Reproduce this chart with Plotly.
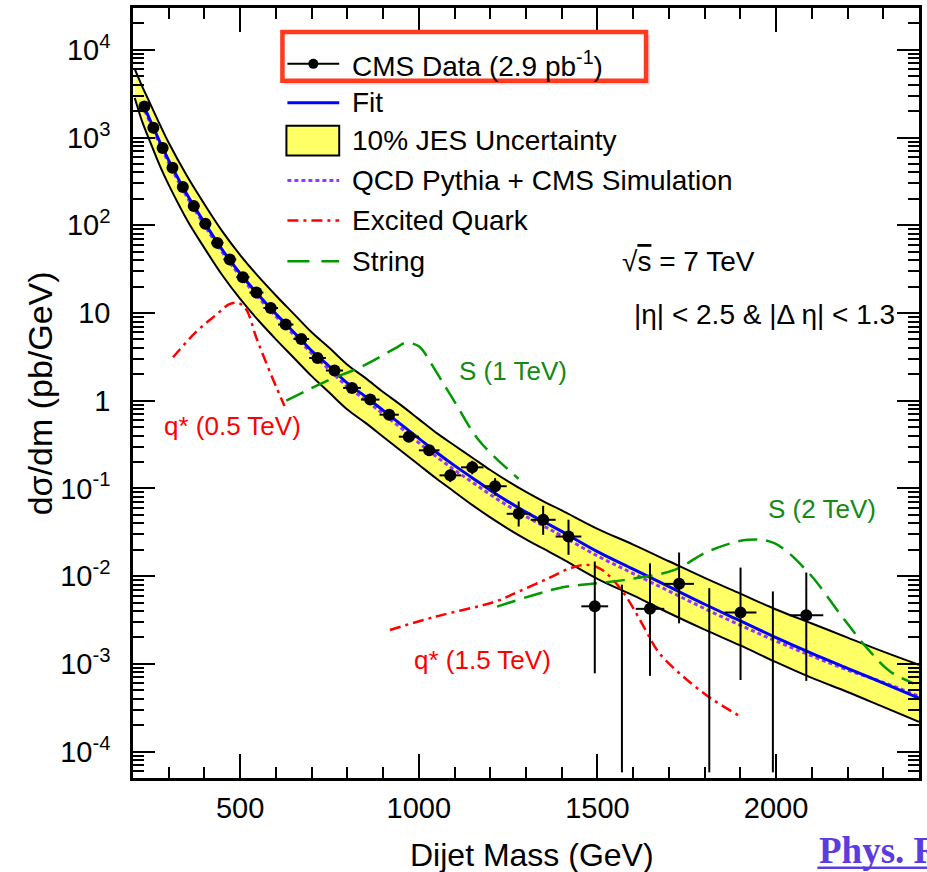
import plotly.graph_objects as go

# ---------------- data ----------------
bin_lo = [220, 244, 270, 296, 325, 354, 386, 419, 453, 489, 526, 565, 606, 649, 693, 740, 788, 838,
          890, 944, 1000, 1058, 1118, 1181, 1246, 1313, 1383, 1455, 1530, 1607, 1687, 1770, 1856, 1945, 2037]
bin_hi = [244, 270, 296, 325, 354, 386, 419, 453, 489, 526, 565, 606, 649, 693, 740, 788, 838, 890,
          944, 1000, 1058, 1118, 1181, 1246, 1313, 1383, 1455, 1530, 1607, 1687, 1770, 1856, 1945, 2037, 2132]
xsec = [2255, 1297, 760, 453, 273, 166, 104, 63.0, 40.8, 25.6, 17.1, 11.4, 7.39, 5.06, 3.07, 2.21, 1.40, 1.03,
        0.693, 0.389, 0.272, 0.141, 0.174, 0.106, 0.0514, 0.0439, 0.0283, 4.53e-3, None, 4.24e-3, 8.17e-3,
        None, 3.84e-3, None, 3.58e-3]
xsec_hi = [2290, 1320, 775, 462, 279, 170, 107, 65.0, 42.2, 26.6, 17.9, 12.0, 7.8, 5.40, 3.30, 2.40, 1.54, 1.14,
           0.775, 0.43, 0.31, 0.165, 0.207, 0.131, 0.0711, 0.0634, 0.044, 0.0147, 8.0e-3, 0.0140, 0.0186,
           7.3e-3, 0.01253, 6.7e-3, 0.011]
xsec_lo = [2220, 1274, 745, 444, 267, 162, 101, 61.0, 39.4, 24.6, 16.3, 10.8, 6.98, 4.72, 2.84, 2.02, 1.26, 0.92,
           0.615, 0.35, 0.234, 0.118, 0.145, 0.083, 0.0368, 0.0296, 0.0175, 7.8e-4, 5.8e-5, 7.3e-4, 2.9e-3,
           5.8e-5, 6.55e-4, 5.8e-5, 6.4e-4]

curve_mass = [205, 225, 250, 275, 300, 350, 400, 450, 500, 550, 600, 650, 700, 750, 800, 850, 900, 950, 1000,
              1050, 1100, 1150, 1200, 1250, 1300, 1350, 1400, 1500, 1600, 1700, 1800, 1900, 2000, 2100, 2200,
              2300, 2400]
fit_log10 = [3.62, 3.41, 3.18, 2.95, 2.74, 2.36, 2.03, 1.72, 1.45, 1.21, 0.99, 0.78, 0.57, 0.39, 0.20, 0.05,
             -0.11, -0.27, -0.43, -0.59, -0.74, -0.88, -1.02, -1.15, -1.27, -1.38, -1.49, -1.72, -1.92, -2.12,
             -2.32, -2.51, -2.70, -2.88, -3.05, -3.22, -3.39]
qcd_log10 = [3.59, 3.38, 3.15, 2.92, 2.71, 2.33, 2.00, 1.69, 1.42, 1.18, 0.96, 0.75, 0.54, 0.35, 0.16, 0.01,
             -0.15, -0.31, -0.48, -0.64, -0.79, -0.93, -1.07, -1.20, -1.32, -1.43, -1.54, -1.77, -1.97, -2.17,
             -2.37, -2.56, -2.74, -2.91, -3.07, -3.21, -3.37]
jes_up_log10 = [3.78, 3.59, 3.37, 3.15, 2.94, 2.57, 2.24, 1.93, 1.66, 1.42, 1.20, 0.99, 0.78, 0.60, 0.41, 0.26,
                0.10, -0.05, -0.21, -0.37, -0.51, -0.65, -0.79, -0.92, -1.04, -1.15, -1.25, -1.46, -1.64,
                -1.83, -2.02, -2.20, -2.38, -2.54, -2.70, -2.86, -3.01]
jes_dn_log10 = [3.45, 3.19, 2.93, 2.68, 2.46, 2.07, 1.74, 1.43, 1.16, 0.92, 0.70, 0.49, 0.28, 0.09, -0.10, -0.25,
                -0.41, -0.57, -0.73, -0.89, -1.04, -1.19, -1.33, -1.46, -1.58, -1.69, -1.80, -2.03, -2.22,
                -2.42, -2.61, -2.79, -2.98, -3.16, -3.32, -3.49, -3.66]

qstar05_mass = [312, 378, 430, 470, 494, 517, 545, 582, 624]
qstar05_log10 = [0.495, 0.79, 0.97, 1.10, 1.115, 1.04, 0.72, 0.34, -0.06]
qstar15_mass = [919, 1047, 1214, 1279, 1363, 1419, 1465, 1500, 1530, 1577, 1632, 1670, 1735, 1818, 1902]
qstar15_log10 = [-2.613, -2.461, -2.29, -2.176, -2.024, -1.916, -1.871, -1.90, -1.985, -2.213, -2.594, -2.861,
                 -3.127, -3.394, -3.603]
string1_mass = [629, 740, 842, 935, 963, 1000, 1035, 1065, 1103, 1168, 1279]
string1_log10 = [0.00, 0.221, 0.393, 0.60, 0.659, 0.62, 0.42, 0.22, -0.03, -0.45, -0.89]
string2_mass = [1219, 1391, 1456, 1577, 1716, 1809, 1921, 1995, 2088, 2181, 2255, 2320, 2385]
string2_log10 = [-2.347, -2.137, -2.099, -2.042, -1.928, -1.719, -1.586, -1.624, -1.947, -2.442, -2.823,
                 -3.089, -3.222]

x_ticks = [500, 1000, 1500, 2000]
y_ticks = [1e4, 1e3, 1e2, 10, 1, 0.1, 0.01, 1e-3, 1e-4]
y_ticktext = ["10<sup>4</sup>", "10<sup>3</sup>", "10<sup>2</sup>", "10", "1", "10<sup>-1</sup>",
              "10<sup>-2</sup>", "10<sup>-3</sup>", "10<sup>-4</sup>"]

legend_labels = ["CMS Data (2.9 pb<sup>-1</sup>)", "Fit", "10% JES Uncertainty",
                 "QCD Pythia + CMS Simulation", "Excited Quark", "String"]

# ---------------- geometry helpers ----------------
W, H = 927, 872
L, R, T, B = 133, 922, 6, 778
FONT = "Liberation Sans, Arial, Helvetica, sans-serif"


def pxx(x):
    return (x - L) / (R - L)


def pxy(y):
    return (B - y) / (B - T)


def tolin(v):
    return [10 ** a for a in v]


centers = [(a + b) / 2 for a, b in zip(bin_lo, bin_hi)]
halfw = [(b - a) / 2 for a, b in zip(bin_lo, bin_hi)]

fig = go.Figure()

# JES band
fig.add_trace(go.Scatter(x=curve_mass, y=tolin(jes_dn_log10), mode="lines",
                         line=dict(width=0, shape="spline", color="black"), showlegend=False, hoverinfo="skip"))
fig.add_trace(go.Scatter(x=curve_mass, y=tolin(jes_up_log10), mode="lines", fill="tonexty",
                         fillcolor="#ffff66", line=dict(width=0, shape="spline", color="black"),
                         showlegend=False, hoverinfo="skip"))
for arr in (jes_up_log10, jes_dn_log10):
    fig.add_trace(go.Scatter(x=curve_mass, y=tolin(arr), mode="lines",
                             line=dict(width=2, shape="spline", color="black"), showlegend=False))

# QCD and fit
fig.add_trace(go.Scatter(x=curve_mass[1:], y=tolin(qcd_log10[1:]), mode="lines",
                         line=dict(width=3, color="#9933ff", dash="4px,3px", shape="spline"), showlegend=False))
fig.add_trace(go.Scatter(x=curve_mass[1:], y=tolin(fit_log10[1:]), mode="lines",
                         line=dict(width=3, color="#0000ff", shape="spline"), showlegend=False))

# signals
fig.add_trace(go.Scatter(x=qstar05_mass, y=tolin(qstar05_log10), mode="lines",
                         line=dict(width=2.5, color="#ff0000", dash="11px,5px,3px,5px", shape="spline"),
                         showlegend=False))
fig.add_trace(go.Scatter(x=qstar15_mass, y=tolin(qstar15_log10), mode="lines",
                         line=dict(width=2.5, color="#ff0000", dash="11px,5px,3px,5px", shape="spline"),
                         showlegend=False))
fig.add_trace(go.Scatter(x=string1_mass, y=tolin(string1_log10), mode="lines",
                         line=dict(width=2.5, color="#009900", dash="19px,9px", shape="spline"),
                         showlegend=False))
fig.add_trace(go.Scatter(x=string2_mass, y=tolin(string2_log10), mode="lines",
                         line=dict(width=2.5, color="#009900", dash="19px,9px", shape="spline"),
                         showlegend=False))

# data vertical error bars (all bins, incl. empty ones)
vx, vy = [], []
for c, lo, hi in zip(centers, xsec_lo, xsec_hi):
    vx += [c, c, None]
    vy += [lo, hi, None]
fig.add_trace(go.Scatter(x=vx, y=vy, mode="lines", line=dict(width=2, color="black"), showlegend=False))

# data points with horizontal bars
px_, py_, pw_ = [], [], []
for c, v, w in zip(centers, xsec, halfw):
    if v is not None:
        px_.append(c)
        py_.append(v)
        pw_.append(w)
fig.add_trace(go.Scatter(x=px_, y=py_, mode="markers",
                         marker=dict(size=12, color="black"),
                         error_x=dict(type="data", array=pw_, color="black", thickness=2, width=0),
                         showlegend=False))

# ---------------- manual legend ----------------
shapes = []
annotations = []
rows = [62, 101, 139, 179, 219, 260]
lx0, lx1, tx = 288, 340, 351

# shadow + red highlight box
shapes.append(dict(type="rect", xref="paper", yref="paper", x0=pxx(285), x1=pxx(652), y0=pxy(83), y1=pxy(33),
                   fillcolor="rgba(0,0,0,0.13)", line=dict(width=0), layer="above"))
shapes.append(dict(type="rect", xref="paper", yref="paper", x0=pxx(283), x1=pxx(648), y0=pxy(79), y1=pxy(30),
                   fillcolor="white", line=dict(width=4.5, color="#ff3a1e"), layer="above"))

# row 1: data
shapes.append(dict(type="line", xref="paper", yref="paper", x0=pxx(lx0), x1=pxx(lx1), y0=pxy(rows[0]),
                   y1=pxy(rows[0]), line=dict(width=2, color="black")))
shapes.append(dict(type="circle", xref="paper", yref="paper", x0=pxx(309), x1=pxx(319), y0=pxy(67),
                   y1=pxy(57), fillcolor="black", line=dict(width=0)))
# row 2: fit
shapes.append(dict(type="line", xref="paper", yref="paper", x0=pxx(lx0), x1=pxx(lx1), y0=pxy(rows[1]),
                   y1=pxy(rows[1]), line=dict(width=3, color="#0000ff")))
# row 3: band
shapes.append(dict(type="rect", xref="paper", yref="paper", x0=pxx(287), x1=pxx(340), y0=pxy(154),
                   y1=pxy(124), fillcolor="#ffff66", line=dict(width=2, color="black")))
# row 4: qcd
shapes.append(dict(type="line", xref="paper", yref="paper", x0=pxx(lx0), x1=pxx(lx1), y0=pxy(rows[3]),
                   y1=pxy(rows[3]), line=dict(width=3, color="#9933ff", dash="4px,3px")))
# row 5: excited quark
shapes.append(dict(type="line", xref="paper", yref="paper", x0=pxx(lx0), x1=pxx(lx1), y0=pxy(rows[4]),
                   y1=pxy(rows[4]), line=dict(width=2.5, color="#ff0000", dash="11px,5px,3px,5px")))
# row 6: string
shapes.append(dict(type="line", xref="paper", yref="paper", x0=pxx(lx0), x1=pxx(lx1), y0=pxy(rows[5]),
                   y1=pxy(rows[5]), line=dict(width=2.5, color="#009900", dash="22px,12px")))

for lab, ry in zip(legend_labels, rows):
    annotations.append(dict(text=lab, xref="paper", yref="paper", x=pxx(tx), y=pxy(ry), xanchor="left",
                            yanchor="middle", showarrow=False, font=dict(family=FONT, size=28, color="black")))


def label(text, x, y, color, size=26, anchor="left"):
    annotations.append(dict(text=text, xref="paper", yref="paper", x=pxx(x), y=pxy(y), xanchor=anchor,
                            yanchor="middle", showarrow=False, font=dict(family=FONT, size=size, color=color)))


label("√<span style='text-decoration:overline'>s</span> = 7 TeV", 622, 260, "black", 28)
label("|η| < 2.5 & |Δ η| < 1.3", 634, 313, "black", 28)
label("S (1 TeV)", 458, 370, "#138a13", 26)
label("q* (0.5 TeV)", 162, 425, "#ff0000", 26)
label("S (2 TeV)", 768, 508, "#138a13", 26)
label("q* (1.5 TeV)", 413, 660, "#ff0000", 26)

# axis titles
annotations.append(dict(text="Dijet Mass (GeV)", xref="paper", yref="paper", x=pxx(534), y=pxy(855),
                        xanchor="center", yanchor="middle", showarrow=False,
                        font=dict(family=FONT, size=32, color="black")))
annotations.append(dict(text="dσ/dm (pb/GeV)", xref="paper", yref="paper", x=pxx(40), y=pxy(392),
                        xanchor="center", yanchor="middle", showarrow=False, textangle=-90,
                        font=dict(family=FONT, size=34, color="black")))
# journal reference (cut at the image edge)
annotations.append(dict(text="<b>Phys. Rev. Lett. 105, 211801</b>", xref="paper", yref="paper", x=pxx(820),
                        y=pxy(851), xanchor="left", yanchor="middle", showarrow=False,
                        font=dict(family="Liberation Serif, Times New Roman, serif", size=37, color="#5a3ce0")))
shapes.append(dict(type="line", xref="paper", yref="paper", x0=pxx(820), x1=pxx(940), y0=pxy(868),
                   y1=pxy(868), line=dict(width=2.5, color="#5a3ce0")))

fig.update_layout(
    width=W, height=H,
    margin=dict(l=L, r=W - R, t=T, b=H - B, pad=0),
    paper_bgcolor="white", plot_bgcolor="white",
    showlegend=False,
    shapes=shapes, annotations=annotations,
    font=dict(family=FONT, color="black"),
)
fig.update_xaxes(
    range=[200, 2400], showgrid=False, zeroline=False,
    showline=True, linecolor="black", linewidth=2.5, mirror="ticks",
    ticks="inside", ticklen=24, tickwidth=1.5, tickcolor="black",
    tickvals=x_ticks, ticktext=[str(v) for v in x_ticks],
    tickfont=dict(family=FONT, size=29, color="black"), ticklabelstandoff=2,
    minor=dict(ticks="inside", ticklen=11, tickwidth=1.5, tickcolor="black", dtick=100, showgrid=False),
)
fig.update_yaxes(
    type="log", range=[-4.301, 4.477], showgrid=False, zeroline=False,
    showline=True, linecolor="black", linewidth=2.5, mirror="ticks",
    ticks="inside", ticklen=22, tickwidth=1.5, tickcolor="black",
    tickvals=y_ticks, ticktext=y_ticktext,
    tickfont=dict(family=FONT, size=29, color="black"), ticklabelstandoff=14,
    minor=dict(ticks="inside", ticklen=11, tickwidth=1.5, tickcolor="black", dtick="D1", showgrid=False),
)

fig.write_html("out.html", config={"displayModeBar": False},
               post_script="document.body.style.margin='0';document.body.style.overflow='hidden';")
